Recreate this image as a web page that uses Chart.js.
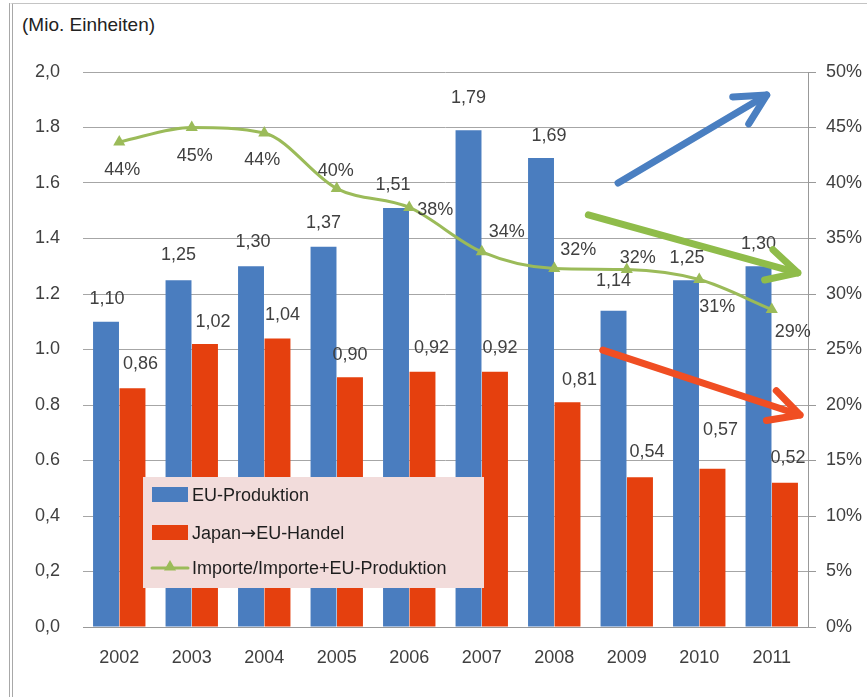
<!DOCTYPE html>
<html>
<head>
<meta charset="utf-8">
<script src="https://cdn.jsdelivr.net/npm/chart.js@4.4.0/dist/chart.umd.min.js"></script>
<style>
html, body { margin: 0; padding: 0; background: #fff; }
#wrap { position: relative; width: 867px; height: 697px; overflow: hidden; }
#frame { position: absolute; left: 9px; top: 3px; width: 900px; height: 720px;
  border-left: 4px double #a8a8a8; border-top: 1px solid #c4c4c4; }
#unit { position: absolute; left: 22px; top: 14px; font: 19px 'Liberation Sans', Arial, sans-serif; color: #222; }
canvas { position: absolute; left: 0; top: 0; }
</style>
</head>
<body>
<div id="wrap">
  <div id="frame"></div>
  <div id="unit">(Mio. Einheiten)</div>
  <canvas id="chart" width="867" height="697"></canvas>
</div>
<script>
const years = ['2002','2003','2004','2005','2006','2007','2008','2009','2010','2011'];
const euProduktion = [1.10, 1.25, 1.30, 1.37, 1.51, 1.79, 1.69, 1.14, 1.25, 1.30];
const japanHandel = [0.86, 1.02, 1.04, 0.90, 0.92, 0.92, 0.81, 0.54, 0.57, 0.52];
const importAnteil = [43.7, 45.0, 44.5, 39.5, 37.8, 33.8, 32.3, 32.2, 31.3, 28.6];
const anteilLabels = ['44%','45%','44%','40%','38%','34%','32%','32%','31%','29%'];
const leftTicks = ['0,0','0,2','0,4','0.6','0.8','1.0','1.2','1.4','1.6','1.8','2,0'];
const rightTicks = ['0%','5%','10%','15%','20%','25%','30%','35%','40%','45%','50%'];
// trend arrows in chart units: [category index, left axis value]
const trendArrows = [
  { from: [6.88, 1.600], to: [8.93, 1.917], color: '#4a7fc1' },
  { from: [6.47, 1.485], to: [9.36, 1.276], color: '#8fbc4a' },
  { from: [6.67, 0.998], to: [9.39, 0.764], color: '#f04e23' }
];

const FONT = '"Liberation Sans", Arial, sans-serif';
const fmt = v => v.toFixed(2).replace('.', ',');

// draws a label, putting the arrow glyph in DejaVu so it is full size
function drawLabel(ctx, text, x, y) {
  const parts = text.split('\u2192');
  let cx = x;
  parts.forEach((p, k) => {
    if (k > 0) {
      ctx.font = '18px "DejaVu Sans", sans-serif';
      ctx.fillText('\u2192', cx, y);
      cx += ctx.measureText('\u2192').width;
    }
    ctx.font = '18px ' + FONT;
    ctx.fillText(p, cx, y);
    cx += ctx.measureText(p).width;
  });
}

const extras = {
  id: 'extras',
  afterDatasetsDraw(chart, args, opts) {
    const ctx = chart.ctx;
    ctx.save();
    ctx.font = '18px ' + FONT;
    ctx.fillStyle = '#404040';
    ctx.textAlign = 'center';
    ctx.textBaseline = 'middle';
    chart.data.datasets.forEach((ds, di) => {
      const meta = chart.getDatasetMeta(di);
      const off = opts.offsets[di];
      meta.data.forEach((el, i) => {
        const txt = ds.type === 'line' ? anteilLabels[i] : fmt(ds.data[i]);
        ctx.fillText(txt, el.x + off[i][0], el.y + off[i][1]);
      });
    });

    // arrows
    const xs = chart.scales.x, ys = chart.scales.y;
    trendArrows.forEach(a => {
      const x1 = xs.getPixelForValue(a.from[0]), y1 = ys.getPixelForValue(a.from[1]);
      const x2 = xs.getPixelForValue(a.to[0]), y2 = ys.getPixelForValue(a.to[1]);
      const ang = Math.atan2(y2 - y1, x2 - x1);
      const len = 34, spread = 0.48;
      ctx.strokeStyle = a.color;
      ctx.lineWidth = 7;
      ctx.lineCap = 'round';
      ctx.lineJoin = 'round';
      ctx.beginPath();
      ctx.moveTo(x1, y1);
      ctx.lineTo(x2, y2);
      ctx.stroke();
      ctx.beginPath();
      ctx.moveTo(x2 - len * Math.cos(ang - spread), y2 - len * Math.sin(ang - spread));
      ctx.lineTo(x2, y2);
      ctx.lineTo(x2 - len * Math.cos(ang + spread), y2 - len * Math.sin(ang + spread));
      ctx.stroke();
    });

    // legend box
    const area = chart.chartArea;
    const lx = area.left + 60, ly = area.top + 405;
    ctx.fillStyle = '#f2dcdb';
    ctx.fillRect(lx, ly, 341, 111);
    ctx.textAlign = 'left';
    const rows = [18, 56, 91];
    chart.data.datasets.forEach((ds, di) => {
      const cy = ly + rows[di];
      if (ds.type === 'line') {
        ctx.strokeStyle = ds.borderColor;
        ctx.lineWidth = 3;
        ctx.beginPath();
        ctx.moveTo(lx + 9, cy);
        ctx.lineTo(lx + 45, cy);
        ctx.stroke();
        ctx.fillStyle = ds.borderColor;
        Chart.helpers.drawPoint(ctx, { pointStyle: 'triangle', radius: 7, rotation: 0, borderWidth: 0 }, lx + 27, cy - 1);
      } else {
        ctx.fillStyle = ds.backgroundColor;
        ctx.fillRect(lx + 9, cy - 8, 36, 15);
      }
      ctx.fillStyle = '#1e1e1e';
      drawLabel(ctx, ds.label, lx + 49, cy + 1);
    });
    ctx.restore();
  }
};

new Chart(document.getElementById('chart'), {
  data: {
    labels: years,
    datasets: [
      { type: 'bar', label: 'EU-Produktion', data: euProduktion, backgroundColor: '#4a7dbf',
        yAxisID: 'y', order: 1, categoryPercentage: 0.73, barPercentage: 0.98 },
      { type: 'bar', label: 'Japan\u2192EU-Handel', data: japanHandel, backgroundColor: '#e5400e',
        yAxisID: 'y', order: 1, categoryPercentage: 0.73, barPercentage: 0.98 },
      { type: 'line', label: 'Importe/Importe+EU-Produktion', data: importAnteil, yAxisID: 'y2', order: 0,
        borderColor: '#9bbb59', backgroundColor: '#9bbb59', borderWidth: 3,
        cubicInterpolationMode: 'monotone',
        pointStyle: 'triangle', pointRadius: 7, pointBorderWidth: 0, pointBackgroundColor: '#9bbb59' }
    ]
  },
  options: {
    responsive: false,
    animation: false,
    layout: { padding: { top: 72, left: 0, right: 0, bottom: 0 } },
    plugins: {
      legend: { display: false },
      tooltip: { enabled: false },
      extras: {
        offsets: [
          [[1,-23],[0,-25],[2,-24],[0,-24],[-3,-23],[0,-32],[8,-22],[0,-30],[1,-22],[0,-22]],
          [[8,-24],[8,-22],[5,-23],[0,-22],[9,-24],[5,-24],[12,-22],[7,-25],[8,-39],[3,-25]],
          [[3,28],[3,29],[-2,27],[-1,-18],[26,3],[25,-20],[24,-18],[11,-12],[18,27],[21,22]]
        ]
      }
    },
    scales: {
      x: {
        grid: { display: false, drawTicks: false },
        border: { color: '#999' },
        ticks: { font: { size: 18, family: FONT }, color: '#404040', padding: 20 },
        afterFit: s => { s.height = 70; }
      },
      y: {
        position: 'left', min: 0, max: 2,
        grid: { color: '#a6a6a6', drawTicks: false },
        border: { display: false },
        ticks: { stepSize: 0.2, padding: 23, font: { size: 18, family: FONT }, color: '#404040',
          callback: (v, i) => leftTicks[i] },
        afterFit: s => { s.width = 83; }
      },
      y2: {
        position: 'right', min: 0, max: 50,
        grid: { drawOnChartArea: false, color: '#999', tickLength: 8 },
        border: { color: '#999' },
        ticks: { stepSize: 5, padding: 10, font: { size: 18, family: FONT }, color: '#404040',
          callback: (v, i) => rightTicks[i] },
        afterFit: s => { s.width = 59; }
      }
    }
  },
  plugins: [extras]
});
</script>
</body>
</html>
